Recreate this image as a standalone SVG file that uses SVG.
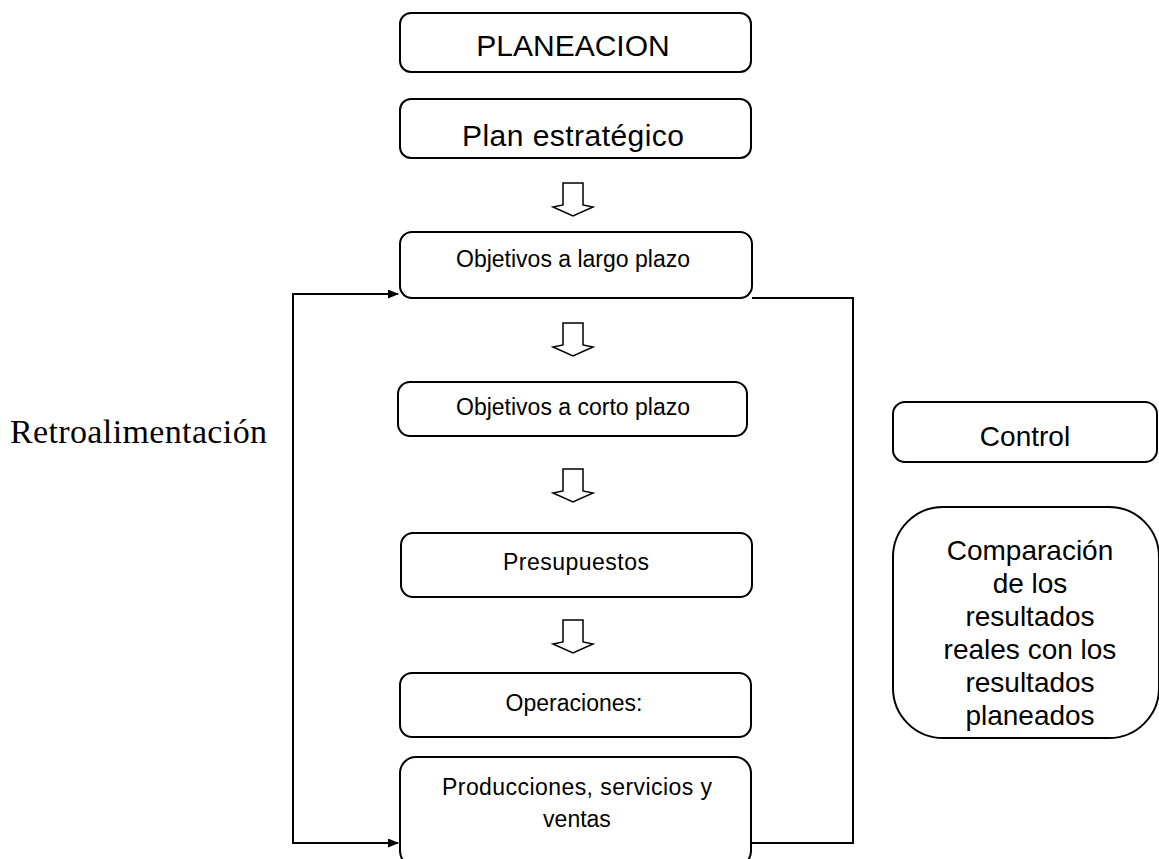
<svg xmlns="http://www.w3.org/2000/svg" width="1159" height="859" viewBox="0 0 1159 859">
<defs>
<style>
.box{fill:#fff;stroke:#000;stroke-width:2}
.t{font-family:"Liberation Sans",Arial,sans-serif;fill:#000;text-anchor:middle}
.big{font-size:30px}
.mid{font-size:23px}
.ctl{font-size:28px}
.flow{fill:#fff;stroke:#000;stroke-width:1.5;stroke-linejoin:miter}
.line{fill:none;stroke:#000;stroke-width:2}
</style>
<marker id="ah" markerWidth="11" markerHeight="9" refX="10" refY="4.5" orient="auto" markerUnits="userSpaceOnUse">
<path d="M0,0 L11,4.5 L0,9 Z" fill="#000"/>
</marker>
<polygon id="darrow" points="-10,0 10,0 10,22 20,24 0,33 -20,24 -10,22"/>
</defs>
<rect width="1159" height="859" fill="#fff"/>

<g id="connectors">
<polyline class="line" points="293,294 293,843 398,843" marker-end="url(#ah)"/>
<line class="line" x1="292" y1="294" x2="398" y2="294" marker-end="url(#ah)"/>
<polyline class="line" points="752,298 853,298 853,843 752,843"/>
<use href="#darrow" class="flow" x="573" y="183"/>
<use href="#darrow" class="flow" x="573" y="323"/>
<use href="#darrow" class="flow" x="573" y="469"/>
<use href="#darrow" class="flow" x="573" y="620"/>
</g>

<g id="planeacion">
<rect class="box" x="400" y="13" width="351" height="59" rx="11"/>
<text class="t big" x="573" y="56">PLANEACION</text>
</g>
<g id="plan-estrategico">
<rect class="box" x="400" y="99" width="351" height="59" rx="11"/>
<text class="t big" x="573" y="146" textLength="222">Plan estratégico</text>
</g>
<g id="largo-plazo">
<rect class="box" x="400" y="232" width="352" height="66" rx="12"/>
<text class="t mid" x="573" y="267">Objetivos a largo plazo</text>
</g>
<g id="corto-plazo">
<rect class="box" x="398" y="382" width="349" height="54" rx="12"/>
<text class="t mid" x="573" y="415">Objetivos a corto plazo</text>
</g>
<g id="presupuestos">
<rect class="box" x="401" y="533" width="351" height="64" rx="12"/>
<text class="t mid" x="576" y="570" textLength="146">Presupuestos</text>
</g>
<g id="operaciones">
<rect class="box" x="400" y="673" width="351" height="64" rx="12"/>
<text class="t mid" x="574" y="711">Operaciones:</text>
</g>
<g id="producciones">
<rect class="box" x="400" y="757" width="351" height="110" rx="16"/>
<text class="t mid" x="577" y="795" textLength="270">Producciones, servicios y</text>
<text class="t mid" x="577" y="827">ventas</text>
</g>
<g id="retro">
<text x="10" y="443" font-family="'Liberation Serif','Times New Roman',serif" font-size="34" textLength="257" fill="#000">Retroalimentación</text>
</g>
<g id="control">
<rect class="box" x="893" y="402" width="264" height="60" rx="12"/>
<text class="t ctl" x="1025" y="446">Control</text>
</g>
<g id="comparacion">
<rect class="box" x="893" y="507" width="266" height="231" rx="50"/>
<text class="t ctl" x="1030" y="560">Comparación</text>
<text class="t ctl" x="1030" y="593">de los</text>
<text class="t ctl" x="1030" y="626">resultados</text>
<text class="t ctl" x="1030" y="659">reales con los</text>
<text class="t ctl" x="1030" y="692">resultados</text>
<text class="t ctl" x="1030" y="725">planeados</text>
</g>
</svg>
